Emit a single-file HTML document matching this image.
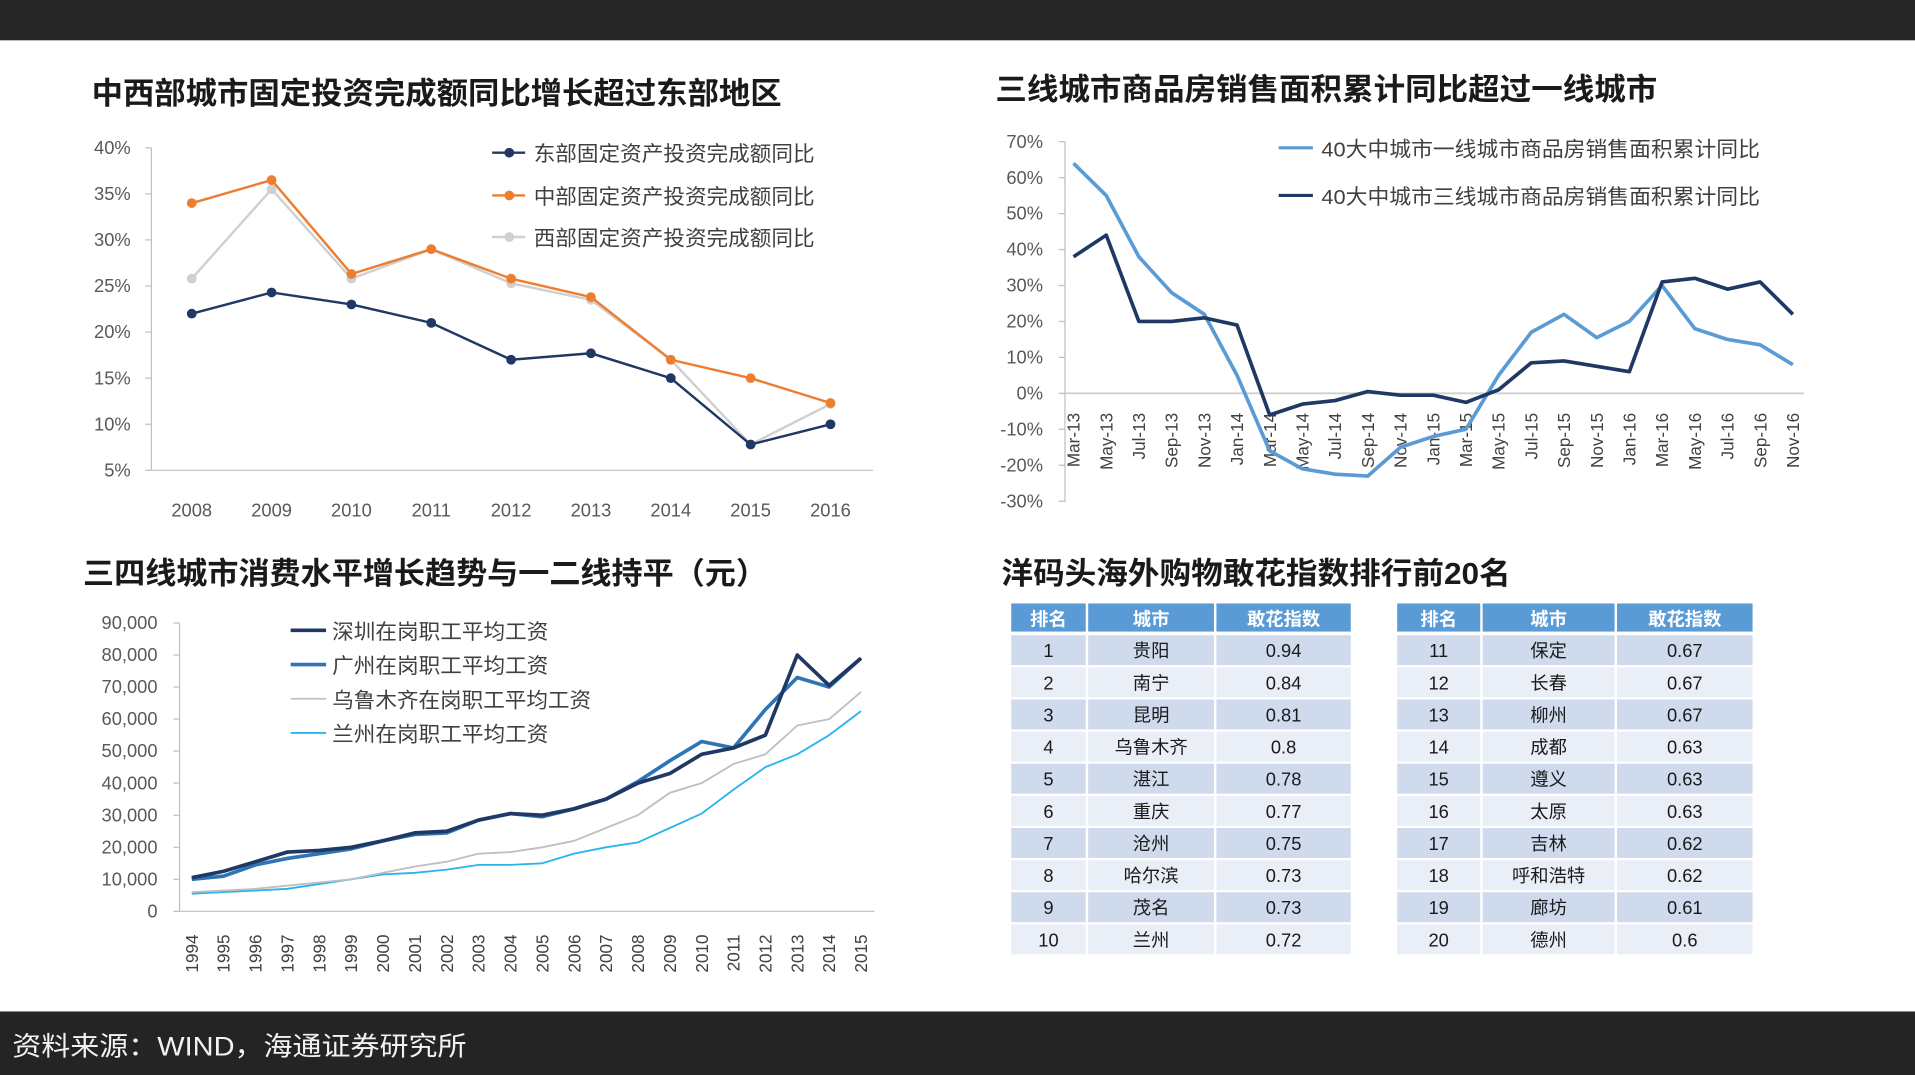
<!DOCTYPE html>
<html><head><meta charset="utf-8"><style>
html,body{margin:0;padding:0;background:#fff;width:1915px;height:1075px;overflow:hidden}
svg{display:block}
text{font-family:"Liberation Sans","Noto Sans CJK SC",sans-serif}
</style></head><body>
<svg id="s" width="1915" height="1075" viewBox="0 0 1568 880" preserveAspectRatio="none" xmlns="http://www.w3.org/2000/svg">
<rect x="0" y="0" width="1568" height="33" fill="#262626"/>
<rect x="0" y="828" width="1568" height="52" fill="#242424"/>
<text x="10" y="864" font-size="22" fill="#f2f2f2" textLength="372" lengthAdjust="spacingAndGlyphs">资料来源：WIND，海通证券研究所</text>
<g id="c1"></g>
<g id="c2"></g>
<g id="c3"></g>
<g id="tb"></g>
</svg>
<script>
// Chart 1 data
const c1Years = ["2008","2009","2010","2011","2012","2013","2014","2015","2016"];
const c1East = [22,24.3,23,21,17,17.7,15,7.8,10];
const c1Central = [34,36.5,26.3,29,25.8,23.8,17,15,12.3];
const c1West = [25.8,35.5,25.8,29,25.3,23.5,17,7.8,12.2];
const c1Ticks = [5,10,15,20,25,30,35,40];
const c1Names = ["东部固定资产投资完成额同比","中部固定资产投资完成额同比","西部固定资产投资完成额同比"];
// Chart 2 data
const c2Labels = ["Mar-13","May-13","Jul-13","Sep-13","Nov-13","Jan-14","Mar-14","May-14","Jul-14","Sep-14","Nov-14","Jan-15","Mar-15","May-15","Jul-15","Sep-15","Nov-15","Jan-16","Mar-16","May-16","Jul-16","Sep-16","Nov-16"];
const c2Tier1 = [64,55,38,28,22,5,-16,-21,-22.5,-23,-15,-12,-10,5,17,22,15.5,20,30,18,15,13.5,8];
const c2Tier3 = [38,44,20,20,21,19,-6,-3,-2,0.5,-0.5,-0.5,-2.5,1,8.5,9,7.5,6,31,32,29,31,22];
const c2Ticks = [-30,-20,-10,0,10,20,30,40,50,60,70];
const c2Names = ["40大中城市一线城市商品房销售面积累计同比","40大中城市三线城市商品房销售面积累计同比"];
// Chart 3 data
const c3Years = ["1994","1995","1996","1997","1998","1999","2000","2001","2002","2003","2004","2005","2006","2007","2008","2009","2010","2011","2012","2013","2014","2015"];
const c3Shenzhen = [10500,12500,15500,18500,19000,20000,22000,24500,25000,28500,30500,30000,32000,35000,40000,43000,49000,51000,55000,80000,70500,79000];
const c3Guangzhou = [10000,11000,14500,16500,18000,19500,22000,24000,24500,28500,30500,29500,32000,35000,40500,47000,53000,51000,63000,73000,70000,79000];
const c3Urumqi = [6000,6500,7000,8000,9000,10000,12000,14000,15500,18000,18500,20000,22000,26000,30000,37000,40000,46000,49000,58000,60000,68500];
const c3Lanzhou = [5500,6000,6500,7000,8500,10000,11500,12000,13000,14500,14500,15000,18000,20000,21500,26000,30500,38000,45000,49000,55000,62500];
const c3Ticks = [0,10000,20000,30000,40000,50000,60000,70000,80000,90000];
const c3Names = ["深圳在岗职工平均工资","广州在岗职工平均工资","乌鲁木齐在岗职工平均工资","兰州在岗职工平均工资"];
// Table data
const tbRanks = [1,2,3,4,5,6,7,8,9,10,11,12,13,14,15,16,17,18,19,20];
const tbCities = ["贵阳","南宁","昆明","乌鲁木齐","湛江","重庆","沧州","哈尔滨","茂名","兰州","保定","长春","柳州","成都","遵义","太原","吉林","呼和浩特","廊坊","德州"];
const tbScores = ["0.94","0.84","0.81","0.8","0.78","0.77","0.75","0.73","0.73","0.72","0.67","0.67","0.67","0.63","0.63","0.63","0.62","0.62","0.61","0.6"];

const NS="http://www.w3.org/2000/svg";
function mk(parent,tag,attrs,txt){const e=document.createElementNS(NS,tag);for(const k in attrs)e.setAttribute(k,attrs[k]);if(txt!==undefined)e.textContent=txt;parent.appendChild(e);return e;}
function pathD(xs,ys){return xs.map((x,i)=>(i?"L":"M")+x.toFixed(1)+" "+ys[i].toFixed(1)).join(" ");}
function fit(el,len){el.setAttribute('textLength',len);el.setAttribute('lengthAdjust','spacingAndGlyphs');}

// ---------- Chart 1 ----------
(function(){
const g=document.getElementById('c1');
const t=mk(g,'text',{x:75,y:85,'font-size':25,'font-weight':'bold',fill:'#1a1a1a'},'中西部城市固定投资完成额同比增长超过东部地区');
fit(t,565);


const X=i=>157+i*(680-157)/(c1Years.length-1);
const Y=v=>385-(v-5)*(385-121)/35;
const ax=mk(g,'path',{d:'M124 121 L124 385 L715 385',stroke:'#bfbfbf','stroke-width':1,fill:'none'});


c1Ticks.forEach(v=>{
 mk(g,'line',{x1:119,x2:124,y1:Y(v),y2:Y(v),stroke:'#bfbfbf'});
 const l=mk(g,'text',{x:107,y:Y(v)+5,'font-size':15,fill:'#595959','text-anchor':'end'},v+'%');
 
 
});
c1Years.forEach((y,i)=>{
 const l=mk(g,'text',{x:X(i),y:423,'font-size':15,fill:'#595959','text-anchor':'middle'},y);
 
 
});
const series=[[c1West,'#d0d0d0'],[c1Central,'#ed7d31'],[c1East,'#203864']];
series.forEach(([d,c],k)=>{
 const xs=d.map((_,i)=>X(i)),ys=d.map(Y);
 const p=mk(g,'path',{d:pathD(xs,ys),stroke:c,'stroke-width':2,fill:'none'});
 
 
 d.forEach((v,i)=>{const m=mk(g,'circle',{cx:X(i),cy:Y(v),r:4,fill:c});
  
  });
});
const lc=['#203864','#ed7d31','#d0d0d0'],ly=[125,160,194];
c1Names.forEach((n,i)=>{
 mk(g,'line',{x1:403,x2:430,y1:ly[i],y2:ly[i],stroke:lc[i],'stroke-width':2});
 mk(g,'circle',{cx:417,cy:ly[i],r:4,fill:lc[i]});
 const l=mk(g,'text',{x:437,y:ly[i]+7,'font-size':17,fill:'#404040'},n);
 fit(l,230);
 
 
});
})();

// ---------- Chart 2 ----------
(function(){
const g=document.getElementById('c2');
const t=mk(g,'text',{x:815,y:82,'font-size':25,'font-weight':'bold',fill:'#1a1a1a'},'三线城市商品房销售面积累计同比超过一线城市');
fit(t,542);


const X=i=>879+i*(1468-879)/(c2Labels.length-1);
const Y=v=>322-v*(322-116)/70;
const ax=mk(g,'line',{x1:872,x2:872,y1:116,y2:411,stroke:'#bfbfbf'});


const z=mk(g,'line',{x1:872,x2:1477,y1:Y(0),y2:Y(0),stroke:'#d0d0d0','stroke-width':1.5});


c2Ticks.forEach(v=>{
 mk(g,'line',{x1:867,x2:872,y1:Y(v),y2:Y(v),stroke:'#bfbfbf'});
 const l=mk(g,'text',{x:854,y:Y(v)+5,'font-size':15,fill:'#595959','text-anchor':'end'},v+'%');
 
 
});
c2Labels.forEach((s,i)=>{
 const x=X(i)+5;
 const l=mk(g,'text',{x:x,y:338,'font-size':14,fill:'#404040','text-anchor':'end',transform:`rotate(-90 ${x} 338)`},s);
 
 
});
[[c2Tier1,'#5b9bd5'],[c2Tier3,'#1f3864']].forEach(([d,c])=>{
 const p=mk(g,'path',{d:pathD(d.map((_,i)=>X(i)),d.map(Y)),stroke:c,'stroke-width':3,fill:'none','stroke-linejoin':'round'});
 
 
});
const lc=['#5b9bd5','#1f3864'],ly=[121,160];
c2Names.forEach((n,i)=>{
 mk(g,'line',{x1:1047,x2:1075,y1:ly[i],y2:ly[i],stroke:lc[i],'stroke-width':2.5});
 const l=mk(g,'text',{x:1082,y:ly[i]+7,'font-size':17,fill:'#404040'},n);
 fit(l,359);
 
 
});
})();

// ---------- Chart 3 ----------
(function(){
const g=document.getElementById('c3');
const t=mk(g,'text',{x:68,y:478,'font-size':25,'font-weight':'bold',fill:'#1a1a1a'},'三四线城市消费水平增长趋势与一二线持平（元）');
fit(t,560);


const X=i=>157+i*(705-157)/(c3Years.length-1);
const Y=v=>746-v*(746-510)/90000;
const ax=mk(g,'path',{d:'M147 510 L147 746 L716 746',stroke:'#bfbfbf',fill:'none'});


c3Ticks.forEach(v=>{
 mk(g,'line',{x1:142,x2:147,y1:Y(v),y2:Y(v),stroke:'#bfbfbf'});
 const l=mk(g,'text',{x:129,y:Y(v)+5,'font-size':15,fill:'#595959','text-anchor':'end'},v.toLocaleString('en-US'));
 
 
});
c3Years.forEach((s,i)=>{
 const x=X(i)+5;
 const l=mk(g,'text',{x:x,y:765,'font-size':14,fill:'#404040','text-anchor':'end',transform:`rotate(-90 ${x} 765)`},s);
 
 
});
const cols=['#1f3864','#2e75b6','#bfbfbf','#28b4ef'],wd=[3,3,1.5,1.5];
[c3Lanzhou,c3Urumqi,c3Guangzhou,c3Shenzhen].forEach((d,k)=>{
 const idx=3-k;
 const p=mk(g,'path',{d:pathD(d.map((_,i)=>X(i)),d.map(Y)),stroke:cols[idx],'stroke-width':wd[idx],fill:'none','stroke-linejoin':'round'});
 
 
});
const ly=[516,544,572,600],ll=[177,177,212,177];
c3Names.forEach((n,i)=>{
 mk(g,'line',{x1:238,x2:267,y1:ly[i],y2:ly[i],stroke:cols[i],'stroke-width':wd[i]});
 const l=mk(g,'text',{x:272,y:ly[i]+7,'font-size':17,fill:'#404040'},n);
 fit(l,ll[i]);
 
 
});
})();

// ---------- Tables ----------
(function(){
const g=document.getElementById('tb');
const t=mk(g,'text',{x:820,y:478,'font-size':25,'font-weight':'bold',fill:'#1a1a1a'},'洋码头海外购物敢花指数排行前20名');
fit(t,417);


const tables=[[827,[63,105,112]],[1143,[70,110,113]]];
const heads=['排名','城市','敢花指数'];
tables.forEach(([x0,ws],ti)=>{
 let x=x0;
 ws.forEach((w,c)=>{
  const r=mk(g,'rect',{x:x+1,y:494,width:w-2,height:23,fill:'#5b9bd5'});
  
  
  mk(g,'text',{x:x+w/2,y:512,'font-size':15,fill:'#fff','font-weight':'bold','text-anchor':'middle'},heads[c]);
  x+=w;
 });
 for(let r=0;r<10;r++){
  const i=ti*10+r, y=520+r*26.3;
  const vals=[String(tbRanks[i]),tbCities[i],tbScores[i]];
  let xx=x0;
  ws.forEach((w,c)=>{
   const rc=mk(g,'rect',{x:xx+1,y:y,width:w-2,height:24.5,fill:r%2===0?'#cfdaec':'#e9eef7'});
   
   
   const tx=mk(g,'text',{x:xx+w/2,y:y+18,'font-size':15,fill:'#1a1a1a','text-anchor':'middle'},vals[c]);
   
   
   xx+=w;
  });
 }
});
})();
</script>
</body></html>
